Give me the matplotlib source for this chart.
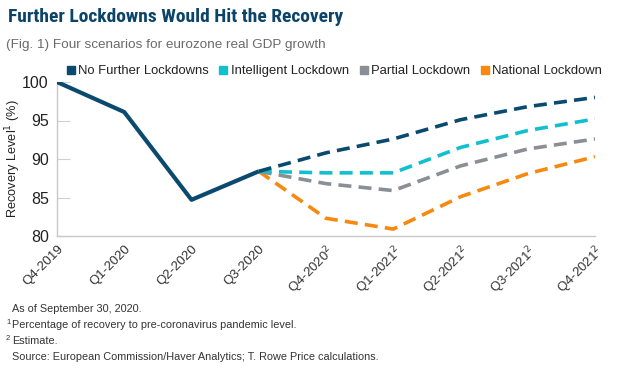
import matplotlib
matplotlib.use("Agg")
import matplotlib.pyplot as plt
from matplotlib.lines import Line2D

plt.rcParams['font.family'] = ['Liberation Sans', 'DejaVu Sans']
NARROW = ['Liberation Sans Narrow', 'Roboto Condensed', 'Liberation Sans']

quarters = ["Q4-2019", "Q1-2020", "Q2-2020", "Q3-2020", "Q4-2020$^{2}$",
            "Q1-2021$^{2}$", "Q2-2021$^{2}$", "Q3-2021$^{2}$", "Q4-2021$^{2}$"]
actual = [100.0, 96.1, 84.7, 88.4]
no_further = [88.4, 90.8, 92.6, 95.1, 96.8, 98.0]
intelligent = [88.4, 88.2, 88.2, 91.5, 93.7, 95.2]
partial = [88.4, 86.8, 85.9, 89.1, 91.3, 92.6]
national = [88.4, 82.3, 80.9, 85.1, 88.1, 90.3]
series_names = ["No Further Lockdowns", "Intelligent Lockdown", "Partial Lockdown", "National Lockdown"]
yticks = [80, 85, 90, 95, 100]

NAVY = "#0a4a6e"
CYAN = "#10c0cf"
GREY = "#8a8f95"
ORANGE = "#f7890f"
colors = [NAVY, CYAN, GREY, ORANGE]

fig = plt.figure(figsize=(6.34, 3.75), dpi=100)
ax = fig.add_axes([57/634, 1-236/375, (595-57)/634, (236-82)/375])

x_act = list(range(len(actual)))
x_fc = list(range(3, 3 + len(no_further)))

for vals, c in zip([national, partial, intelligent, no_further], [ORANGE, GREY, CYAN, NAVY]):
    ax.plot(x_fc, vals, color=c, lw=2.6, dashes=(3.6, 2.0), dash_capstyle='butt', zorder=2)
ax.plot(x_act, actual, color=NAVY, lw=3.0, solid_capstyle='butt', zorder=3)

ax.set_xlim(0, len(quarters) - 1)
ax.set_ylim(80, 100)
ax.set_yticks(yticks)
ax.set_yticklabels([str(v) for v in yticks], fontsize=11.5, color="#222222")
ax.set_xticks(range(len(quarters)))
ax.set_xticklabels(quarters, rotation=45, ha='right', rotation_mode='anchor',
                   fontsize=9.5, color="#333333")
ax.tick_params(axis='y', direction='in', length=9, color="#d0d0d0", pad=6)
ax.tick_params(axis='x', length=0, pad=5)
for s in ['top', 'right']:
    ax.spines[s].set_visible(False)
for s in ['left', 'bottom']:
    ax.spines[s].set_color("#c8c8c8")
    ax.spines[s].set_linewidth(1.0)
ax.set_ylabel("Recovery Level$^{1}$ (%)", fontsize=9.2, color="#222222")
ax.yaxis.set_label_coords((23 - 57) / (595 - 57), 0.5)
ax.patch.set_alpha(0)

handles = [Line2D([], [], marker='s', linestyle='none', color=c, markersize=6) for c in colors]
leg = fig.legend(handles, series_names, loc='center left', bbox_to_anchor=(64/634, 1-71/375),
                 ncol=4, frameon=False, fontsize=9.4, handletextpad=0.05, columnspacing=0.65,
                 borderaxespad=0, borderpad=0, handlelength=1.0)
for t in leg.get_texts():
    t.set_color("#222222")

fig.text(8/634, 1-17/375, "Further Lockdowns Would Hit the Recovery", fontsize=14,
         fontweight='bold', color="#0b4468", va='center', ha='left', family=NARROW)
fig.text(6/634, 1-45/375, "(Fig. 1) Four scenarios for eurozone real GDP growth", fontsize=9.7,
         color="#6a6a6a", va='center', ha='left')

notes = ["As of September 30, 2020.",
         "Percentage of recovery to pre-coronavirus pandemic level.",
         "Estimate.",
         "Source: European Commission/Haver Analytics; T. Rowe Price calculations."]
sups = ["", "1", "2", ""]
note_y = [309, 325, 341, 357]
for t, s, yy in zip(notes, sups, note_y):
    fig.text(12/634, 1-yy/375, t, fontsize=7.8, color="#333333", va='center', ha='left')
    if s:
        fig.text(6/634, 1-(yy-3)/375, s, fontsize=5.5, color="#333333", va='center', ha='left')

fig.savefig("out.png", dpi=100, facecolor="white")
